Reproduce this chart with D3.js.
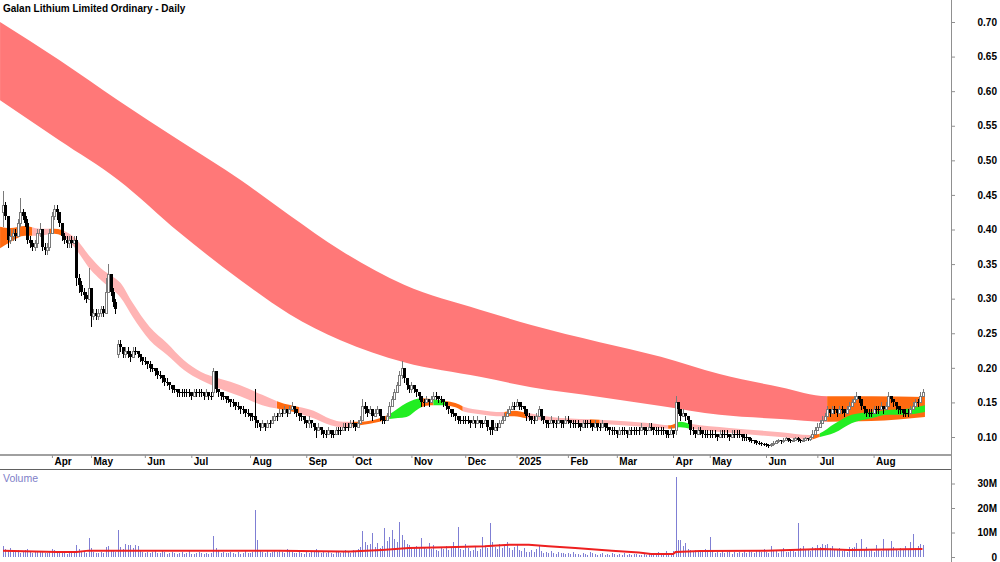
<!DOCTYPE html>
<html><head><meta charset="utf-8">
<script src="https://cdn.jsdelivr.net/npm/d3@7"></script>
<style>body{margin:0;background:#fff} svg{display:block;font-family:"Liberation Sans",Arial,sans-serif}</style>
</head><body>
<svg id="c" width="1000" height="562"></svg>
<script>
// ---- DATA (prices in cents, volumes in millions) ----
const title = "Galan Lithium Limited Ordinary - Daily";
const closes = [43.5,42,38.5,39,39.5,39,41,42.5,42,41,
38.5,38,37.5,38,39.5,40,37.5,37,37.5,39.5,
42,43,42.5,41,39,38.5,38,38.5,38,38.5,
33,32,31,30.5,30,31.5,27.5,28,27.5,28,
28.5,28,31,33.5,31,29.5,28.5,23.5,23,22,
22.5,22,21.5,22.5,22.5,22,21.5,21,21,20.5,
20,20,19.5,19,19,18.5,18,18,17.5,17,
17,16.5,16.5,16.5,16.5,16.5,16.5,16,16.5,16.5,
16.5,16.5,16,16.5,16,16,19.5,17,16.5,16,
16,15.5,15.5,15,15,14.5,14.5,14,14,13.5,
13.5,13,13,12.5,12,11.5,12,11.5,12,12,
12.5,13,13,13.5,13.5,14,13.5,14,14.5,14,
13.5,13,13,12.5,12,12.5,12,11.5,11,11.5,
11,10.5,10.5,11,10.5,10.5,11,11,11,11.5,
11.5,11.5,12,12,11.5,12,12.5,14.5,14,13.5,
14,13,13.5,14,13,12.5,12.5,13,14.5,15.5,
16.5,17.5,19,20,18.5,17.5,17,17.5,17,16.5,
16,15,15,15.5,15,15.5,16,16,15.5,15.5,
15,14.5,14,13.5,13.5,13,12.5,12.5,12.5,12.5,
12.5,12,12.5,12,12.5,12,12,12.5,11.5,11,
11,11.5,11.5,12,12.5,13,13.5,14,14.5,14.5,
15,14.5,14.5,14,13,13,12.5,12.5,13,14,
13,12.5,12,12,12.5,12,12,12.5,12,12,
12.5,12.5,12,12,12,12,11.5,12,12,12,
12,11.5,12,11.5,11.5,12,11.5,11.5,11,11,
11,10.5,11,11,11,10.5,11,11,11,11,
11,11.5,11,11,11.5,11.5,11,11,11,11,
11,10.5,10.5,11,10.5,15,14,13,13.5,13,
12.5,11,11,10.5,11,11,10.5,10.5,10.5,10.5,
10.5,10.5,10,10.5,10.5,10.5,10.5,10,10.5,10.5,
10.5,10.5,10,10,10,9.6,9.5,9.4,9.2,9.2,
9.0,9.0,8.9,8.8,9.0,9.2,9.4,9.5,9.4,9.6,
9.8,9.6,9.5,9.6,9.8,9.6,9.5,9.6,9.8,9.7,
10,10.5,11,11.5,12,12.5,13,14,13.5,14,
14,13.5,14,14,13.5,14,14.5,15,15.5,16,
15.5,14.5,14,13.5,13.5,13.5,14,14,14,14.5,
14,14.5,16,15.5,15,14.5,14,14,13.5,13.5,
13.5,14,14.5,15,15,16,16.5];
const highs = [45.5,44,42,40,40,40,41.5,44.5,43,42.5,
41.5,39,38.5,38.5,40,41,40,38,38,40,
42.5,43.5,43.5,42.5,41,39.5,39,39,39,39,
39,33.5,32.5,31.5,31,34.5,31.5,28.5,28.5,28.5,
29,29,33,35,33.5,31.5,30,24,24,23,
23,23,22.5,23,23,22.5,22,21.5,21.5,21,
21,20.5,20,20,19.5,19,19,18.5,18,17.5,
17.5,17,17,17,17,17,17,16.5,17,17,
17,17,16.5,17,16.5,16.5,20,19.5,17,16.5,
16.5,16,16,15.5,15.5,15,15,14.5,14.5,14,
14,13.5,13.5,17,12.5,12,12.5,12,12.5,12.5,
13,13.5,13.5,14,14,14.5,14,14.5,15,14.5,
14,13.5,13.5,13,12.5,13,12.5,12,11.5,12,
11.5,11,11,11.5,11,11,11.5,11.5,11.5,12,
12,12,12.5,12.5,12,12.5,13,15.5,15,14.5,
14.5,14,14,14.5,14,13,13,13.5,15,16,
17,18,19.5,21,20,18.5,17.5,18,17.5,17,
16.5,16,15.5,16,15.5,16,16.5,16.5,16,16,
15.5,15,14.5,14,14,13.5,13,13,13,13,
13,12.5,13,12.5,13,12.5,12.5,13,12.5,11.5,
12.5,12,12,12.5,13,13.5,14,14.5,15,15,
15.5,15,15,14.5,14,13.5,13,13,13.5,14.5,
14,13,12.5,12.5,13,12.5,12.5,13,12.5,12.5,
13,13,12.5,12.5,12.5,12.5,12,12.5,12.5,12.5,
12.5,12,12.5,12,12,12.5,12,12,11.5,11.5,
11.5,11,11.5,11.5,11.5,11,11.5,11.5,11.5,11.5,
11.5,12,11.5,11.5,12,12,11.5,11.5,11.5,11.5,
11.5,11,11,11.5,11,16,15,14,14,13.5,
13,12,11.5,11,11.5,11.5,11,11,11,11,
11,11,10.5,11,11,11,11,10.5,11,11,
11,11,10.5,10.5,10.5,10,9.8,9.6,9.5,9.4,
9.3,9.2,9.1,9.0,9.2,9.4,9.6,9.7,9.6,9.8,
10,9.9,9.7,9.8,10,10,9.7,9.8,10,9.9,
10.2,11,11.5,12,12.5,13,13.5,14.5,14,14.5,
14.5,14,14.5,14.5,14,14.5,15,15.5,16,16.5,
16,15.5,14.5,14,14,14,14.5,14.5,14.5,15,
14.5,15,16.5,16,15.5,15,14.5,14.5,14,14,
14,14.5,15,15.5,15.5,16.5,17];
const lows = [40.5,41.5,37.5,38,38.5,38.5,39,40.5,41.5,40.5,
38,37.5,37,37,37.5,39,37,36.5,36.5,37,
39.5,41.5,41.5,40.5,38.5,38,37.5,37.5,37.5,38,
32,31,30.5,30,29.5,30,26,27,27,27,
27.5,27.5,28,31,30.5,29,28,21.5,22.5,21.5,
21.5,21.5,21,21.5,22,21.5,21,20.5,20.5,20,
19.5,19.5,19,18.5,18.5,18,17.5,17.5,17,16.5,
16.5,16,16,16,16,16,16,15.5,16,16,
16,16,15.5,16,15.5,15.5,16,16.5,16,15.5,
15.5,15,15,14.5,14.5,14,14,13.5,13.5,13,
13,12.5,12.5,11.5,11.5,11,11.5,11,11.5,11.5,
12,12.5,12.5,13,13,13.5,13,13.5,14,13.5,
13,12.5,12.5,12,11.5,11.5,11.5,11,10,11,
10.5,10,10,10.5,10,10,10.5,10.5,10.5,11,
11,11,11.5,11.5,11,11.5,12,12.5,13.5,13,
13.5,12.5,13,13.5,12.5,12,12,12.5,13,14.5,
15.5,16.5,17.5,18.5,18,17,16.5,16.5,16.5,16,
15.5,14.5,14.5,15,14.5,15,15.5,15.5,15,15,
14.5,14,13.5,13,13,12.5,12,12,12,12,
12,11.5,12,11.5,12,11.5,11.5,12,11,10.5,
10.5,11,11,11.5,12,12.5,13,13.5,14,14,
14.5,14,14,13.5,12.5,12.5,12,12,12.5,13,
12.5,12,11.5,11.5,12,11.5,11.5,12,11.5,11.5,
12,12,11.5,11.5,11.5,11.5,11,11.5,11.5,11.5,
11.5,11,11.5,11,11,11.5,11,11,10.5,10.5,
10.5,10,10.5,10.5,10.5,10,10.5,10.5,10.5,10.5,
10.5,11,10.5,10.5,11,11,10.5,10.5,10.5,10.5,
10.5,10,10,10.5,10,10.5,13.5,12.5,13,12.5,
12,10.5,10.5,10,10.5,10.5,10,10,10,10,
10,10,9.5,10,10,10,10,9.5,10,10,
10,10,9.5,9.5,9.5,9.4,9.3,9.2,9.0,9.0,
8.8,8.8,8.7,8.6,8.7,8.9,9.1,9.3,9.2,9.3,
9.5,9.4,9.3,9.4,9.5,9.4,9.3,9.4,9.5,9.5,
9.6,10,10.5,11,11.5,12,12.5,13,13,13.5,
13.5,13,13.5,13.5,13,13.5,14,14.5,15,15.5,
15,14,13.5,13,13,13,13.5,13.5,13.5,14,
13.5,14,14.5,15,14.5,14,13.5,13.5,13,13,
13,13.5,14,14.5,14.5,15,16];
// opens equal the previous close except on these gap days
const gapIdx  = [0, 47, 86, 200, 275];
const gapOpen = [42.5, 22, 16.5, 12.5, 11];
const volumes = [4.6,3.2,2.8,3.5,2.1,2.6,3.0,1.8,2.4,2.9,3.3,2.0,1.7,2.2,2.5,1.9,2.6,1.5,1.8,2.3,3.1,2.7,2.0,1.6,2.4,1.9,1.4,1.7,2.2,2.0,
4.9,3.4,2.5,2.1,1.8,7.8,3.6,2.2,1.7,1.5,2.0,1.8,3.9,4.6,2.8,2.3,1.9,
11.0,4.2,3.1,5.2,4.8,5.0,3.6,5.1,4.4,2.5,2.0,1.8,2.2,1.6,
1.9,2.4,1.5,1.7,2.8,2.0,1.4,1.6,2.2,1.8,1.3,1.5,1.9,1.2,1.6,2.5,1.4,1.3,1.8,2.1,1.5,1.2,1.6,1.4,1.7,
8.6,3.5,
2.4,1.8,2.0,1.5,1.7,2.2,1.6,1.3,1.9,1.4,1.8,2.3,1.5,1.7,2.0,
19.0,7.0,
3.0,2.2,1.8,2.5,1.6,2.0,2.4,1.9,2.8,2.1,1.7,3.2,2.6,2.0,1.5,1.8,2.3,1.6,1.4,2.0,1.7,2.5,1.9,3.1,2.2,1.8,2.6,1.5,2.0,1.7,1.4,2.2,1.9,1.6,2.4,3.0,2.1,1.8,2.7,2.3,3.4,4.0,
10.5,6.2,4.8,5.5,9.6,4.0,5.8,3.7,4.5,12.0,6.5,8.0,11.0,7.2,6.0,14.2,9.0,6.8,5.5,
5.0,4.2,3.8,4.5,3.6,7.7,4.0,3.2,5.6,3.4,4.8,3.0,2.6,3.9,3.1,4.4,2.8,3.5,6.0,4.1,12.4,3.3,2.9,5.2,3.7,2.6,3.0,4.6,2.4,3.4,8.0,4.5,3.6,13.9,6.2,
4.0,3.1,5.5,3.8,4.6,6.0,3.5,2.8,4.2,5.0,3.0,2.5,3.6,2.2,1.9,2.7,2.0,3.3,4.8,2.4,1.8,2.1,1.6,2.5,1.7,1.4,2.0,1.5,1.8,1.3,
1.6,1.2,2.0,1.1,1.4,0.9,1.7,1.3,1.0,2.2,1.5,1.1,0.8,1.3,1.8,1.0,1.2,0.9,1.5,1.1,0.7,1.3,1.0,1.6,0.8,1.2,0.9,1.1,1.4,0.8,1.0,1.3,0.9,1.7,1.1,0.8,1.2,2.0,1.0,1.4,2.5,1.1,1.8,2.6,
32.8,7.0,6.8,4.5,5.6,3.2,2.8,2.5,3.0,2.2,1.9,2.6,3.4,2.0,8.3,2.4,1.8,2.1,1.6,2.3,1.5,1.9,2.7,1.4,2.0,1.7,
2.2,1.6,2.5,1.8,3.0,2.1,1.5,2.4,2.8,1.9,3.2,2.0,1.7,4.6,2.3,2.9,1.8,2.6,3.5,2.2,1.9,3.1,2.4,2.0,13.7,3.8,4.5,2.7,3.3,2.5,4.0,3.6,5.0,4.2,5.5,4.8,
5.2,3.8,4.4,3.1,2.7,3.6,2.4,3.0,2.2,4.1,3.5,4.0,5.8,3.2,7.5,2.8,3.9,2.5,3.4,2.1,4.8,3.0,2.6,7.2,3.3,2.9,6.5,4.1,3.0,2.4,3.6,2.8,4.4,3.2,6.1,9.3,3.8,4.6,5.4,5.0];
// volume moving average (sampled)
const maIdx = [0,22,30,35,77,113,139,142,155,166,181,197,207,215,223,234,249,260,265,274,275,285,312,322,335,346,376];
const maVal = [2.6,2.0,2.0,2.6,2.6,2.6,2.2,2.2,2.9,3.7,4.0,4.4,5.0,5.0,4.4,3.7,2.6,1.8,1.2,1.2,2.0,2.4,2.6,2.9,3.3,2.9,3.3];
// long-term band edges ($)
const longIdx = [-1.2,23,47,72,97,117,138,164,195,216,244,269,293,318,337,355,377];
const longTop = [0.700,0.645,0.587,0.529,0.472,0.421,0.370,0.320,0.284,0.262,0.237,0.216,0.191,0.172,0.159,0.159,0.158];
const longBot = [0.587,0.529,0.472,0.396,0.327,0.278,0.240,0.208,0.187,0.172,0.158,0.145,0.132,0.126,0.122,0.123,0.129];
const longSegStart = [-2, 337];
const longSegState = ["down","neutral"];
// short-term band edges ($)
const shortIdx = [-1.2,3,9,15,21,25,29,36,40,44,48,53,60,67,74,81,88,93,97,106,115,119,127,134,139,146,154,158,165,171,175,179,185,189,195,204,209,214,224,244,265,273,277,281,297,318,330,333,340,347,355,362,368,377];
const shortTop = [0.404,0.402,0.405,0.401,0.401,0.398,0.389,0.359,0.344,0.334,0.323,0.294,0.259,0.236,0.211,0.194,0.185,0.180,0.175,0.161,0.148,0.145,0.138,0.126,0.122,0.122,0.127,0.133,0.149,0.156,0.155,0.153,0.149,0.143,0.139,0.136,0.138,0.135,0.129,0.125,0.120,0.117,0.122,0.119,0.113,0.107,0.103,0.104,0.119,0.132,0.136,0.139,0.140,0.146];
const shortBot = [0.373,0.382,0.391,0.391,0.394,0.389,0.375,0.341,0.327,0.315,0.302,0.274,0.240,0.219,0.197,0.182,0.171,0.164,0.159,0.146,0.139,0.136,0.127,0.117,0.114,0.117,0.122,0.126,0.129,0.143,0.146,0.146,0.143,0.136,0.133,0.130,0.130,0.127,0.123,0.119,0.114,0.112,0.114,0.112,0.106,0.100,0.096,0.099,0.106,0.120,0.127,0.132,0.132,0.136];
const shortSegStart = [-2,12,19,24,112,121,143,158,171,176,181,188,205,214,240,244,272,276,281,331,334];
const shortSegState = ["neutral","down","neutral","down","neutral","down","neutral","up","neutral","up","neutral","down","neutral","down","neutral","down","neutral","up","down","neutral","up"];
// axes
const priceTicks = [0.10,0.15,0.20,0.25,0.30,0.35,0.40,0.45,0.50,0.55,0.60,0.65,0.70];
const volTicks = [0,10,20,30];
const monthIdx = [20,36,58,77,101,124,143,167,189,210,231,251,274,289,312,333,356];
const monthLabels = ["Apr","May","Jun","Jul","Aug","Sep","Oct","Nov","Dec","2025","Feb","Mar","Apr","May","Jun","Jul","Aug"];

// ---- STYLE / LAYOUT ----
const axisX = 951;
const stateColor = {down:"#ff7878", neutral:"#ff6a10", up:"#22ee22"};
const shortColor = {down:"#ffb4b4", neutral:"#ff6a10", up:"#22ee22"};

const svg = d3.select("#c");
const x = d3.scaleLinear().domain([0,376]).range([3,922.5]);
const y = d3.scaleLinear().domain([0.10,0.70]).range([437,22]);
const yv = d3.scaleLinear().domain([0,30]).range([557,483.5]);

const defs = svg.append("defs");
defs.append("clipPath").attr("id","plot").append("rect").attr("x",0).attr("y",0).attr("width",axisX).attr("height",455);

function drawBand(idx, top, bot, segStart, segState, colors, name){
  const pts = idx.map((d,i)=>({i:d, t:top[i], b:bot[i]}));
  const area = d3.area().x(d=>x(d.i)).y0(d=>y(d.b)).y1(d=>y(d.t)).curve(d3.curveMonotoneX);
  const g = svg.append("g").attr("clip-path","url(#plot)");
  segStart.forEach((s,k)=>{
    const e = k+1<segStart.length ? segStart[k+1] : 380;
    const id = name+"seg"+k;
    const x0 = Math.max(0, x(s)), x1 = Math.min(axisX, x(e));
    defs.append("clipPath").attr("id",id).append("rect").attr("x",x0).attr("y",0).attr("width",x1-x0).attr("height",455);
    g.append("path").datum(pts).attr("d",area).attr("fill",colors[segState[k]]).attr("clip-path","url(#"+id+")");
  });
}
drawBand(longIdx,longTop,longBot,longSegStart,longSegState,stateColor,"long");
drawBand(shortIdx,shortTop,shortBot,shortSegStart,shortSegState,shortColor,"short");

// candles
const gapMap = new Map(gapIdx.map((d,i)=>[d,gapOpen[i]]));
const bars = closes.map((c,i)=>({i, c, o: gapMap.has(i)?gapMap.get(i):closes[i-1], h:highs[i], l:lows[i], v:volumes[i]}));
const cg = svg.append("g").attr("shape-rendering","crispEdges");
bars.forEach(d=>{
  const cx = Math.round(x(d.i));
  const up = d.c > d.o;
  const col = up ? "#7a7a7a" : "#000";
  cg.append("line").attr("x1",cx+0.5).attr("x2",cx+0.5).attr("y1",Math.round(y(d.h/100))).attr("y2",Math.round(y(d.l/100))+1).attr("stroke",col).attr("stroke-width",1);
  const yt = Math.round(y(Math.max(d.o,d.c)/100)), yb = Math.round(y(Math.min(d.o,d.c)/100));
  if (d.c === d.o) {
    cg.append("rect").attr("x",cx-1).attr("y",yt).attr("width",3).attr("height",1).attr("fill","#000");
  } else if (up) {
    cg.append("rect").attr("x",cx-0.5).attr("y",yt+0.5).attr("width",2).attr("height",Math.max(1,yb-yt)).attr("fill","#fff").attr("stroke","#7a7a7a").attr("stroke-width",1);
  } else {
    cg.append("rect").attr("x",cx-1).attr("y",yt).attr("width",3).attr("height",Math.max(1,yb-yt)).attr("fill","#000");
  }
});

// volume
const vg = svg.append("g").attr("shape-rendering","crispEdges");
bars.forEach(d=>{
  const cx = Math.round(x(d.i));
  vg.append("line").attr("x1",cx+0.5).attr("x2",cx+0.5).attr("y1",yv(0)).attr("y2",yv(d.v)).attr("stroke","#7f7fd4").attr("stroke-width",1);
});
const maPts = maIdx.map((d,i)=>[x(d), yv(maVal[i])]);
svg.append("path").attr("d",d3.line().curve(d3.curveLinear)(maPts)).attr("fill","none").attr("stroke","#ee2020").attr("stroke-width",2);

// frame lines
svg.append("line").attr("x1",0).attr("x2",axisX).attr("y1",455).attr("y2",455).attr("stroke","#a0a0a0").attr("stroke-width",2);
svg.append("line").attr("x1",0).attr("x2",axisX).attr("y1",469.5).attr("y2",469.5).attr("stroke","#606060").attr("stroke-width",1);
svg.append("line").attr("x1",axisX+0.5).attr("x2",axisX+0.5).attr("y1",0).attr("y2",562).attr("stroke","#909090").attr("stroke-width",1);

// price axis
const pa = svg.append("g").attr("transform",`translate(${axisX+1},0)`)
  .call(d3.axisRight(y).tickValues(priceTicks).tickSize(3).tickFormat(d3.format(".2f")));
pa.select(".domain").remove();
pa.selectAll(".tick line").attr("stroke","#909090");
pa.selectAll(".tick text").attr("x",45).attr("text-anchor","end").attr("font-size","10px").attr("font-weight","bold").attr("fill","#000").attr("font-family","Liberation Sans, Arial, sans-serif");

// volume axis
const va = svg.append("g").attr("transform",`translate(${axisX+1},0)`)
  .call(d3.axisRight(yv).tickValues(volTicks).tickSize(3).tickFormat(d=>d===0?"0":d+"M"));
va.select(".domain").remove();
va.selectAll(".tick line").attr("stroke","#909090");
va.selectAll(".tick text").attr("x",45).attr("text-anchor","end").attr("font-size","10px").attr("font-weight","bold").attr("fill","#000").attr("font-family","Liberation Sans, Arial, sans-serif");

// date axis
const da = svg.append("g").attr("transform","translate(0,455)")
  .call(d3.axisBottom(x).tickValues(monthIdx).tickSize(3).tickFormat((d,i)=>monthLabels[i]));
da.select(".domain").remove();
da.selectAll(".tick line").attr("stroke","#909090");
da.selectAll(".tick text").attr("x",2).attr("y",3).attr("text-anchor","start").attr("font-size","10px").attr("font-weight","bold").attr("fill","#000").attr("font-family","Liberation Sans, Arial, sans-serif");

// titles
svg.append("text").attr("x",3).attr("y",12).attr("font-size","10px").attr("font-weight","bold").attr("fill","#000").text(title);
svg.append("text").attr("x",3).attr("y",482).attr("font-size","10.5px").attr("fill","#8080c8").text("Volume");
</script>
</body></html>
